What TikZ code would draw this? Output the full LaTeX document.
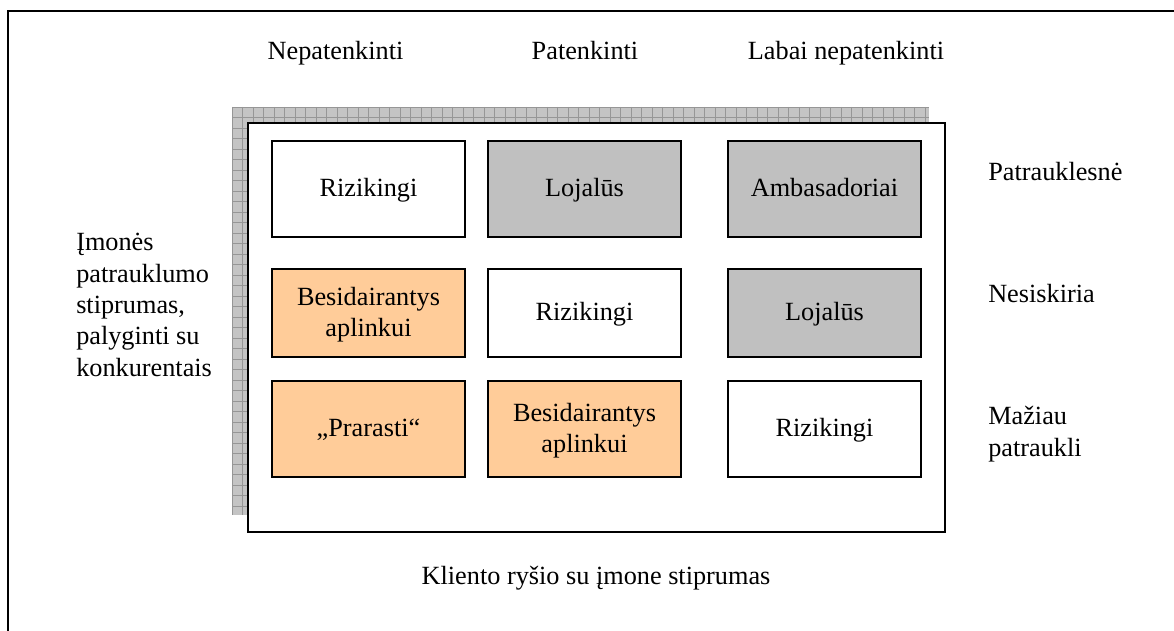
\documentclass[tikz,border=0pt]{standalone}
\usepackage{fontspec}
\setmainfont{Liberation Serif}
\definecolor{cellgray}{HTML}{C0C0C0}
\definecolor{cellorange}{HTML}{FFCC99}
\definecolor{shadefill}{HTML}{C4C4C4}
\definecolor{shadeline}{HTML}{969696}
\begin{document}
\begin{tikzpicture}[x=0.75pt,y=-0.75pt,
  txt/.style={font=\fontsize{19.7pt}{23.5pt}\selectfont, inner sep=0pt},
  one/.style={text height=0.69em, text depth=0.22em},
  low/.style={yshift=-3.5pt},
  cell/.style={txt, draw=black, line width=1.4pt, align=center,
    minimum width=144.75pt, minimum height=72pt},
  short/.style={minimum height=66pt},
  white cell/.style={cell, fill=white},
  gray cell/.style={cell, fill=cellgray},
  orange cell/.style={cell, fill=cellorange},
  lbl/.style={txt, align=left}]
\useasboundingbox (0,0) rectangle (1174,631);
% outer frame (only the left and top edges fall inside the page)
\draw[line width=1.1pt] (8,640) -- (8,11) -- (1180,11);
% hatched shadow behind the matrix
\fill[shadefill] (232,107) rectangle (929,515);
\foreach \gx in {232,242.5,...,929} \draw[shadeline, line width=0.5pt] (\gx,107) -- (\gx,515);
\foreach \gy in {107,117.5,...,515} \draw[shadeline, line width=0.5pt] (232,\gy) -- (929,\gy);
% matrix frame
\draw[line width=1.5pt, fill=white] (247.5,123.5) rectangle (944.5,531.5);
% cells (frames drawn at the cell positions, labels set a little lower)
\node[white cell]  (r1c1) at (368.5,189) {};
\node[gray cell]   (r1c2) at (584.5,189) {};
\node[gray cell]   (r1c3) at (824.5,189) {};
\node[orange cell, short] (r2c1) at (368.5,313) {};
\node[white cell, short]  (r2c2) at (584.5,313) {};
\node[gray cell, short]   (r2c3) at (824.5,313) {};
\node[orange cell] (r3c1) at (368.5,429) {};
\node[orange cell] (r3c2) at (584.5,429) {};
\node[white cell]  (r3c3) at (824.5,429) {};
\node[txt, one, low] (t11) at (r1c1) {Rizikingi};
\node[txt, one, low] (t12) at (r1c2) {Lojalūs};
\node[txt, one, low] (t13) at (r1c3) {Ambasadoriai};
\node[txt, align=center, yshift=-1.5pt] (t21) at (r2c1) {Besidairantys\\aplinkui};
\node[txt, one, low] (t22) at (r2c2) {Rizikingi};
\node[txt, one, low] (t23) at (r2c3) {Lojalūs};
\node[txt, one, low] (t31) at (r3c1) {„Prarasti“};
\node[txt, align=center, yshift=-1.5pt] (t32) at (r3c2) {Besidairantys\\aplinkui};
\node[txt, one, low] (t33) at (r3c3) {Rizikingi};
% column headings
\node[txt, one, low] (h1) at (335.5,52) {Nepatenkinti};
\node[txt, one, low] (h2) at (585,52) {Patenkinti};
\node[txt, one, low] (h3) at (846,52) {Labai nepatenkinti};
% row headings
\node[lbl, one, low, anchor=west] (v1) at (988,173) {Patrauklesnė};
\node[lbl, one, low, anchor=west] (v2) at (988,295) {Nesiskiria};
\node[lbl, anchor=west] (v3) at (988,434) {Mažiau\\patraukli};
% axis titles
\node[lbl, anchor=west] (ay) at (76,305) {Įmonės\\patrauklumo\\stiprumas,\\palyginti su\\konkurentais};
\node[txt, one, low] (ax) at (596,577) {Kliento ryšio su įmone stiprumas};
\end{tikzpicture}
\end{document}
